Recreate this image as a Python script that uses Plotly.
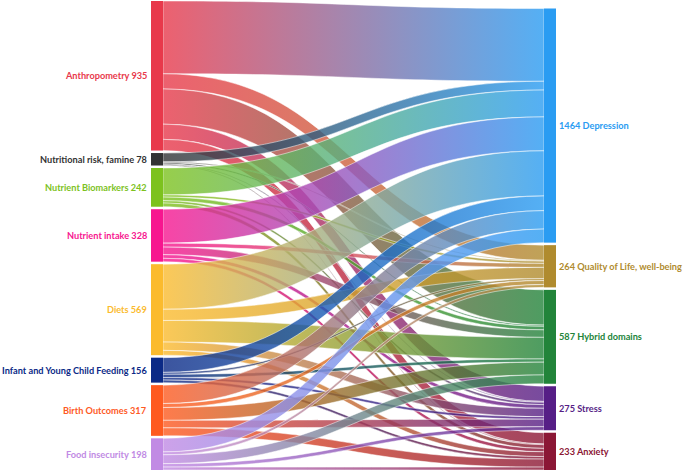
import json
import plotly.graph_objects as go

# ---------------- data ----------------
sources = ["Anthropometry", "Nutritional risk, famine", "Nutrient Biomarkers",
           "Nutrient intake", "Diets", "Infant and Young Child Feeding",
           "Birth Outcomes", "Food insecurity"]
targets = ["Depression", "Quality of Life, well-being", "Hybrid domains",
           "Stress", "Anxiety"]

# flows from each source to [Depression, QoL, Hybrid, Stress, Anxiety]
anthropometry = [455, 95, 220, 95, 70]
nutritional_risk = [55, 5, 8, 5, 5]
nutrient_biomarkers = [168, 14, 22, 15, 23]
nutrient_intake = [212, 25, 47, 23, 21]
diets = [282, 70, 135, 52, 30]
iycf = [92, 12, 20, 16, 16]
birth_outcomes = [115, 25, 80, 47, 50]
food_insecurity = [85, 18, 55, 22, 18]

flows = [anthropometry, nutritional_risk, nutrient_biomarkers, nutrient_intake,
         diets, iycf, birth_outcomes, food_insecurity]

source_colors = ["#e8394b", "#333333", "#7dc21e", "#f7168f", "#fbbb2e",
                 "#0b2a86", "#fe5a1f", "#c18ae4"]
target_colors = ["#2a9cf2", "#b08b2e", "#22843a", "#561e86", "#8b1735"]

# ---------------- geometry ----------------
W, H = 685, 471
ML, MR, MT, MB = 151, 129, 1, 1
PW, PH = W - ML - MR, H - MT - MB
PAD, THICK = 2.5, 12
LINK_ALPHA = 0.8

src_tot = [sum(r) for r in flows]
tgt_tot = [sum(flows[i][j] for i in range(len(sources))) for j in range(len(targets))]
total = sum(src_tot)
ky = (PH - (len(sources) - 1) * PAD) / total


def centers(vals, start):
    out, y = [], start
    for v in vals:
        h = v * ky
        out.append((y + h / 2) / PH)
        y += h + PAD
    return out


src_y = centers(src_tot, 0)
tgt_y = centers(tgt_tot, (len(sources) - len(targets)) * PAD)
node_x = [THICK / 2 / PW] * len(sources) + [1 - THICK / 2 / PW] * len(targets)
node_y = src_y + tgt_y


def hex2rgb(h):
    h = h.lstrip("#")
    return [int(h[i:i + 2], 16) for i in (0, 2, 4)]


def blend(a, b, t=0.5, alpha=LINK_ALPHA):
    ca, cb = hex2rgb(a), hex2rgb(b)
    c = [round(ca[k] * (1 - t) + cb[k] * t) for k in range(3)]
    return f"rgba({c[0]},{c[1]},{c[2]},{alpha})"


link_s, link_t, link_v, link_c = [], [], [], []
grad_from, grad_to = [], []
for i, row in enumerate(flows):
    for j, v in enumerate(row):
        if v > 0:
            link_s.append(i)
            link_t.append(len(sources) + j)
            link_v.append(v)
            link_c.append(blend(source_colors[i], target_colors[j], 0.5))
            grad_from.append(source_colors[i])
            grad_to.append(target_colors[j])

fig = go.Figure(go.Sankey(
    arrangement="fixed",
    node=dict(
        label=[""] * (len(sources) + len(targets)),
        customdata=sources + targets,
        hovertemplate="%{customdata}: %{value}<extra></extra>",
        color=source_colors + target_colors,
        line=dict(width=0),
        pad=PAD,
        thickness=THICK,
        x=node_x,
        y=node_y,
    ),
    link=dict(
        source=link_s,
        target=link_t,
        value=link_v,
        color=link_c,
        line=dict(color="white", width=0.5),
    ),
))

annotations = []
FONT = "Lato"
FS = 9.2
for name, tot, y, col in zip(sources, src_tot, src_y, source_colors):
    annotations.append(dict(
        x=0, y=1 - y, xref="paper", yref="paper", xanchor="right", yanchor="middle",
        xshift=-2, showarrow=False, text=f"<b>{name} {tot}</b>",
        font=dict(family=FONT, size=FS, color=col)))
for name, tot, y, col in zip(targets, tgt_tot, tgt_y, target_colors):
    annotations.append(dict(
        x=1, y=1 - y, xref="paper", yref="paper", xanchor="left", yanchor="middle",
        xshift=1, showarrow=False, text=f"<b>{tot} {name}</b>",
        font=dict(family=FONT, size=FS, color=col)))

fig.update_layout(
    width=W, height=H,
    margin=dict(l=ML, r=MR, t=MT, b=MB),
    paper_bgcolor="white",
    annotations=annotations,
    font=dict(family=FONT, size=10),
)

# horizontal source->target colour gradient on each link (styling only)
gradient_js = """
document.body.style.margin='0';
document.body.style.overflow='hidden';
var gd = document.getElementById('{plot_id}');
var GF = %s, GT = %s, ALPHA = %s;
function applyGradients(){
  var svg = gd.querySelector('.main-svg');
  if(!svg) return;
  var ns = 'http://www.w3.org/2000/svg';
  var defs = svg.querySelector('defs');
  if(!defs){ defs = document.createElementNS(ns,'defs'); svg.insertBefore(defs, svg.firstChild); }
  gd.querySelectorAll('.sankey-link').forEach(function(p){
    var d = p.__data__; if(!d) return;
    var i = (d.pointNumber !== undefined) ? d.pointNumber : (d.link ? d.link.pointNumber : undefined);
    if(i === undefined || GF[i] === undefined) return;
    var id = 'linkgrad' + i;
    if(!document.getElementById(id)){
      var g = document.createElementNS(ns,'linearGradient');
      g.setAttribute('id', id);
      g.setAttribute('x1','0'); g.setAttribute('x2','1');
      g.setAttribute('y1','0'); g.setAttribute('y2','0');
      var s1 = document.createElementNS(ns,'stop');
      s1.setAttribute('offset','0'); s1.setAttribute('stop-color', GF[i]);
      var s2 = document.createElementNS(ns,'stop');
      s2.setAttribute('offset','1'); s2.setAttribute('stop-color', GT[i]);
      g.appendChild(s1); g.appendChild(s2); defs.appendChild(g);
    }
    p.style.fill = 'url(#' + id + ')';
    p.style.fillOpacity = ALPHA;
  });
}
applyGradients();
setTimeout(applyGradients, 50);
setTimeout(applyGradients, 400);
gd.on('plotly_afterplot', applyGradients);
""" % (json.dumps(grad_from), json.dumps(grad_to), LINK_ALPHA)

fig.write_html("out.html", config={"displayModeBar": False}, post_script=gradient_js)
